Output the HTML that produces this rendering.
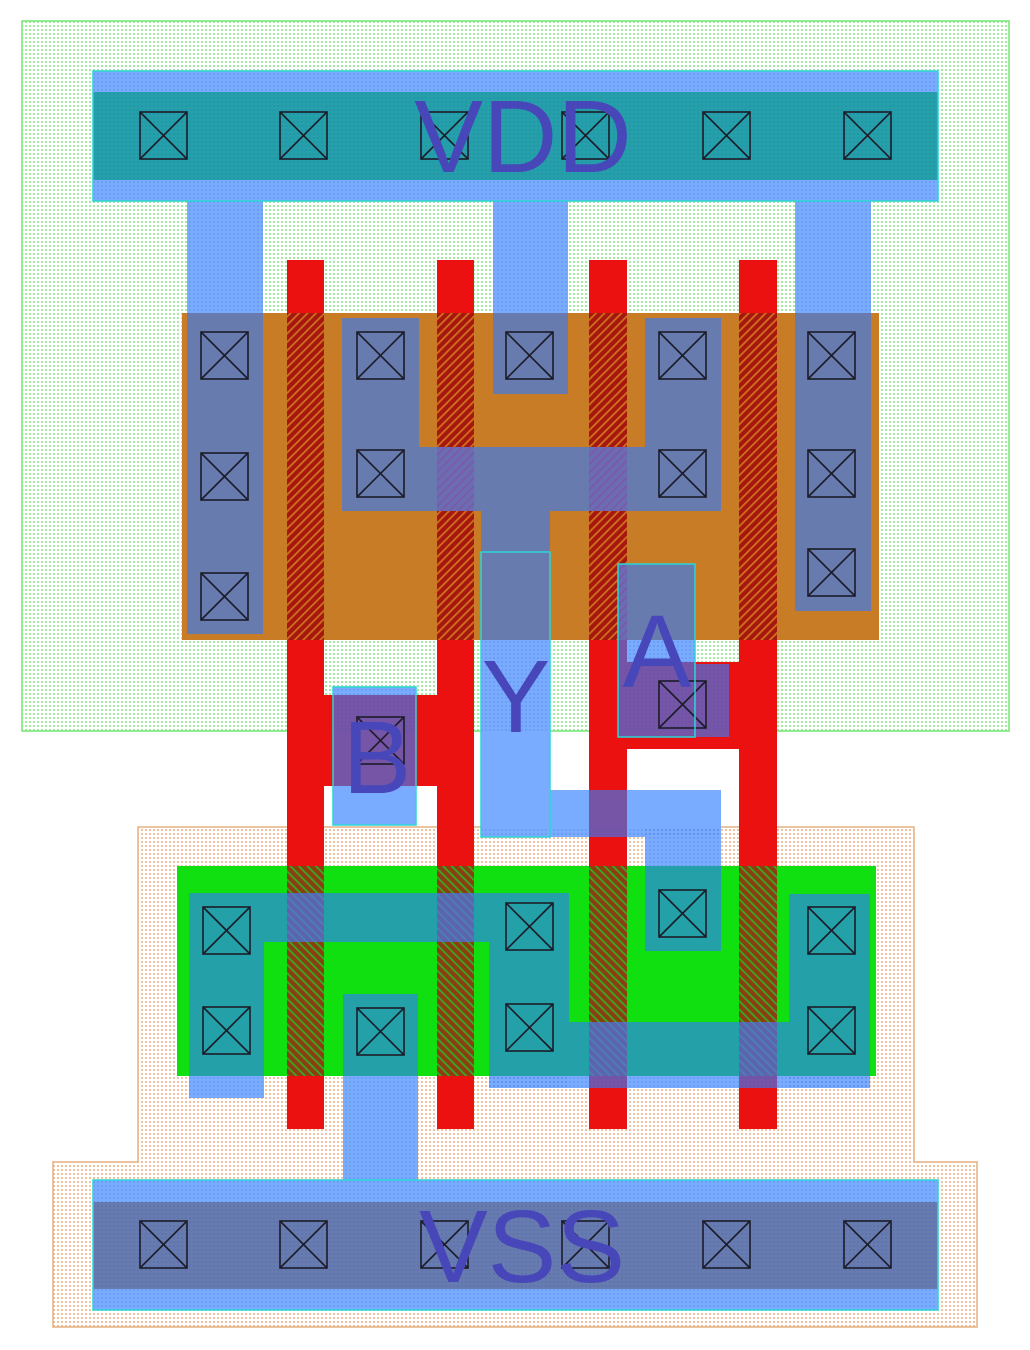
<!DOCTYPE html>
<html>
<head>
<meta charset="utf-8">
<style>
  html,body{margin:0;padding:0;background:#fff;}
  svg{display:block;}
</style>
</head>
<body>
<svg width="1030" height="1350" viewBox="0 0 1030 1350" xmlns="http://www.w3.org/2000/svg">
  <defs>
    <pattern id="nw" width="4" height="4" patternUnits="userSpaceOnUse">
      <rect width="4" height="4" fill="#ffffff"/>
      <circle cx="2" cy="2" r="0.95" fill="#7ee27e"/>
    </pattern>
    <pattern id="pw" width="4" height="4" patternUnits="userSpaceOnUse">
      <rect width="4" height="4" fill="#ffffff"/>
      <circle cx="2" cy="2" r="0.95" fill="#eaa97a"/>
    </pattern>
    <pattern id="md" width="4" height="4" patternUnits="userSpaceOnUse">
      <circle cx="2" cy="2" r="0.95" fill="rgba(40,80,190,0.22)"/>
    </pattern>
    <pattern id="hp" width="6" height="6" patternUnits="userSpaceOnUse" patternTransform="rotate(45)">
      <rect width="6" height="6" fill="#a5170f"/>
      <rect width="1.8" height="6" fill="#d0701f"/>
    </pattern>
    <pattern id="hn" width="6" height="6" patternUnits="userSpaceOnUse" patternTransform="rotate(-45)">
      <rect width="6" height="6" fill="#8a3e12"/>
      <rect width="1.8" height="6" fill="#3aa820"/>
    </pattern>
    <pattern id="hmp" width="6" height="6" patternUnits="userSpaceOnUse" patternTransform="rotate(45)">
      <rect width="6" height="6" fill="#6b6cb2"/>
      <rect width="1.8" height="6" fill="#7a5aa8"/>
    </pattern>
    <pattern id="hmn" width="6" height="6" patternUnits="userSpaceOnUse" patternTransform="rotate(-45)">
      <rect width="6" height="6" fill="#5c64b0"/>
      <rect width="1.8" height="6" fill="#4b80b2"/>
    </pattern>

    <g id="m">
      <rect x="93" y="71" width="845" height="130"/>
      <rect x="187" y="201" width="76" height="433"/>
      <rect x="493" y="201" width="75" height="193"/>
      <rect x="795" y="201" width="76" height="410"/>
      <rect x="342" y="318" width="77" height="193"/>
      <rect x="342" y="447" width="379" height="64"/>
      <rect x="645" y="318" width="76" height="193"/>
      <rect x="481" y="447" width="69" height="390"/>
      <rect x="618" y="564" width="77" height="173"/>
      <rect x="695" y="664" width="34" height="73"/>
      <rect x="333" y="687" width="83" height="138"/>
      <rect x="550" y="790" width="171" height="47"/>
      <rect x="645" y="790" width="76" height="161"/>
      <rect x="189" y="893" width="75" height="205"/>
      <rect x="189" y="893" width="380" height="49"/>
      <rect x="489" y="893" width="80" height="195"/>
      <rect x="489" y="1022" width="381" height="66"/>
      <rect x="789" y="894" width="81" height="194"/>
      <rect x="343" y="994" width="75" height="186"/>
      <rect x="93" y="1180" width="845" height="130"/>
    </g>

    <clipPath id="cP">
      <rect x="182" y="313" width="697" height="327"/>
      <rect x="93" y="1202" width="845" height="87"/>
    </clipPath>
    <clipPath id="cN">
      <rect x="177" y="866" width="699" height="210"/>
      <rect x="93" y="92" width="845" height="88"/>
    </clipPath>
    <clipPath id="cPoly">
      <rect x="287" y="260" width="37" height="869"/>
      <rect x="437" y="260" width="37" height="869"/>
      <rect x="589" y="260" width="38" height="869"/>
      <rect x="739" y="260" width="38" height="869"/>
      <rect x="324" y="695" width="113" height="91"/>
      <rect x="626" y="662" width="113" height="87"/>
    </clipPath>
    <clipPath id="cDots">
      <rect x="22" y="21" width="987" height="292"/>
      <rect x="22" y="640" width="987" height="91"/>
      <rect x="53" y="827" width="924" height="39"/>
      <rect x="53" y="1076" width="924" height="251"/>
    </clipPath>

    <g id="ct" fill="none" stroke="#1c1c28" stroke-width="1.6">
      <rect x="0" y="0" width="47" height="47"/>
      <line x1="0" y1="0" x2="47" y2="47"/>
      <line x1="47" y1="0" x2="0" y2="47"/>
    </g>
  </defs>

  <!-- wells -->
  <rect x="22" y="21" width="987" height="710" fill="url(#nw)" stroke="#72e872" stroke-width="1.5"/>
  <polygon points="138,827 914,827 914,1162 977,1162 977,1327 53,1327 53,1162 138,1162" fill="url(#pw)" stroke="#e6b080" stroke-width="1.5"/>

  <!-- diffusion -->
  <rect x="182" y="313" width="697" height="327" fill="#c77c25"/>
  <rect x="177" y="866" width="699" height="210" fill="#10e010"/>
  <rect x="93" y="92" width="845" height="88" fill="#10e010"/>
  <rect x="93" y="1202" width="845" height="87" fill="#c77c25"/>

  <!-- poly -->
  <g fill="#ec1111">
    <rect x="287" y="260" width="37" height="869"/>
    <rect x="437" y="260" width="37" height="869"/>
    <rect x="589" y="260" width="38" height="869"/>
    <rect x="739" y="260" width="38" height="869"/>
    <rect x="324" y="695" width="113" height="91"/>
    <rect x="626" y="662" width="113" height="87"/>
  </g>
  <!-- gate hatch -->
  <g fill="url(#hp)">
    <rect x="287" y="313" width="37" height="327"/>
    <rect x="437" y="313" width="37" height="327"/>
    <rect x="589" y="313" width="38" height="327"/>
    <rect x="739" y="313" width="38" height="327"/>
  </g>
  <g fill="url(#hn)">
    <rect x="287" y="866" width="37" height="210"/>
    <rect x="437" y="866" width="37" height="210"/>
    <rect x="589" y="866" width="38" height="210"/>
    <rect x="739" y="866" width="38" height="210"/>
  </g>

  <!-- metal -->
  <use href="#m" fill="#79abff"/>
  <use href="#m" fill="#687bae" clip-path="url(#cP)"/>
  <use href="#m" fill="#24a0a8" clip-path="url(#cN)"/>
  <use href="#m" fill="#7755a6" clip-path="url(#cPoly)"/>
  <g fill="url(#hmp)">
    <rect x="437" y="447" width="37" height="64"/>
    <rect x="589" y="447" width="38" height="64"/>
    <rect x="618" y="564" width="9" height="76"/>
  </g>
  <g fill="url(#hmn)">
    <rect x="287" y="893" width="37" height="49"/>
    <rect x="437" y="893" width="37" height="49"/>
    <rect x="589" y="1022" width="38" height="54"/>
    <rect x="739" y="1022" width="38" height="54"/>
  </g>
  <g clip-path="url(#cDots)">
    <use href="#m" fill="url(#md)"/>
  </g>

  <!-- contacts -->
  <use href="#ct" x="140" y="112"/><use href="#ct" x="280" y="112"/><use href="#ct" x="421" y="112"/>
  <use href="#ct" x="562" y="112"/><use href="#ct" x="703" y="112"/><use href="#ct" x="844" y="112"/>
  <use href="#ct" x="140" y="1221"/><use href="#ct" x="280" y="1221"/><use href="#ct" x="421" y="1221"/>
  <use href="#ct" x="562" y="1221"/><use href="#ct" x="703" y="1221"/><use href="#ct" x="844" y="1221"/>

  <use href="#ct" x="201" y="332"/><use href="#ct" x="201" y="453"/><use href="#ct" x="201" y="573"/>
  <use href="#ct" x="357" y="332"/><use href="#ct" x="357" y="450"/>
  <use href="#ct" x="506" y="332"/>
  <use href="#ct" x="659" y="332"/><use href="#ct" x="659" y="450"/>
  <use href="#ct" x="808" y="332"/><use href="#ct" x="808" y="450"/><use href="#ct" x="808" y="549"/>

  <use href="#ct" x="659" y="681"/>
  <use href="#ct" x="357" y="717"/>

  <use href="#ct" x="203" y="907"/><use href="#ct" x="203" y="1007"/>
  <use href="#ct" x="357" y="1008"/>
  <use href="#ct" x="506" y="903"/><use href="#ct" x="506" y="1004"/>
  <use href="#ct" x="659" y="890"/>
  <use href="#ct" x="808" y="907"/><use href="#ct" x="808" y="1007"/>

  <!-- pin outlines -->
  <g fill="none" stroke="#2ad6d6" stroke-width="1.5">
    <rect x="93" y="71" width="845" height="130"/>
    <rect x="93" y="1180" width="845" height="130"/>
    <rect x="481" y="552" width="69" height="285"/>
    <rect x="618" y="564" width="77" height="173"/>
    <rect x="333" y="687" width="83" height="138"/>
  </g>

  <!-- labels -->
  <g fill="#4747b9" font-family="'Liberation Sans', Arial, sans-serif" font-size="103" text-anchor="middle">
    <text x="523" y="172">VDD</text>
    <text x="522" y="1282">VSS</text>
    <text x="516" y="732">Y</text>
    <text x="657" y="687">A</text>
    <text x="377" y="793">B</text>
  </g>
</svg>
</body>
</html>
